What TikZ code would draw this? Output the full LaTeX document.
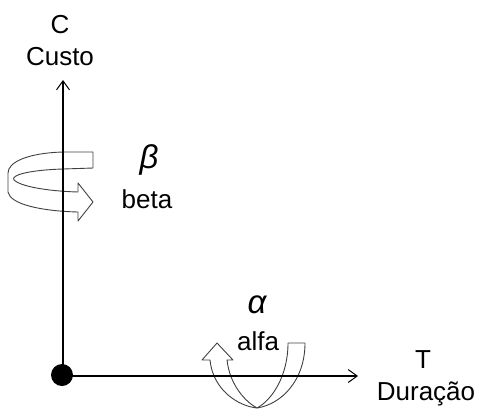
\documentclass[tikz,border=0pt]{standalone}
\usepackage{fontspec}
\setmainfont{Liberation Sans}
\usetikzlibrary{arrows.meta}
\tikzset{
  axis/.style={line width=1.1bp, black, -{Straight Barb[length=9bp,width=13bp,line width=1bp]}},
  ribbon/.style={line width=0.9bp, black!75, line join=round},
  lbl/.style={font=\fontsize{26bp}{28bp}\selectfont, inner sep=0pt, anchor=base},
  greek/.style={font=\fontsize{33bp}{36bp}\selectfont\itshape, inner sep=0pt},
}
\begin{document}
\begin{tikzpicture}[x=1bp,y=-1bp]
\useasboundingbox (0,0) rectangle (479,408);
% beta ribbon
\draw[ribbon] (93,152) -- (63,152) .. controls (28,153) and (8,162) .. (8,173) -- (8,192)
  .. controls (10,204) and (40,211) .. (78,212) -- (78,221) -- (93,202) -- (78,183) -- (78,192)
  .. controls (45,191) and (20,186) .. (14,180) .. controls (10,175) and (30,170) .. (63,169) -- (93,168) -- cycle;
% alpha ribbon
\coordinate (B) at (257,408);
\draw[ribbon] (305,343) .. controls (305,380) and (282,404) .. (B)
  .. controls (238,406) and (213,390) .. (210,360) -- (202,360) -- (217,343) -- (233,360) -- (227,360)
  .. controls (230,386) and (246,402) .. (B);
\draw[ribbon] (B) .. controls (272,400) and (288,376) .. (288,343) -- (305,343);
% axes
\coordinate (O) at (63,376);
\coordinate (Ctip) at (63,80);
\coordinate (Ttip) at (358,376);
\draw[axis] (O) -- (Ctip);
\draw[axis] (O) -- (Ttip);
\fill[black] (62,375) circle (11);
% labels
\node[lbl] (c) at (60,33) {C};
\node[lbl] (custo) at (60,65) {Custo};
\node[greek] (b) at (149,160) {β};
\node[lbl] (beta) at (147,208) {beta};
\node[greek] (a) at (257,305) {α};
\node[lbl] (alfa) at (258,350) {alfa};
\node[lbl] (t) at (423,368) {T};
\node[lbl] (dur) at (426,400) {Duração};
\end{tikzpicture}
\end{document}
